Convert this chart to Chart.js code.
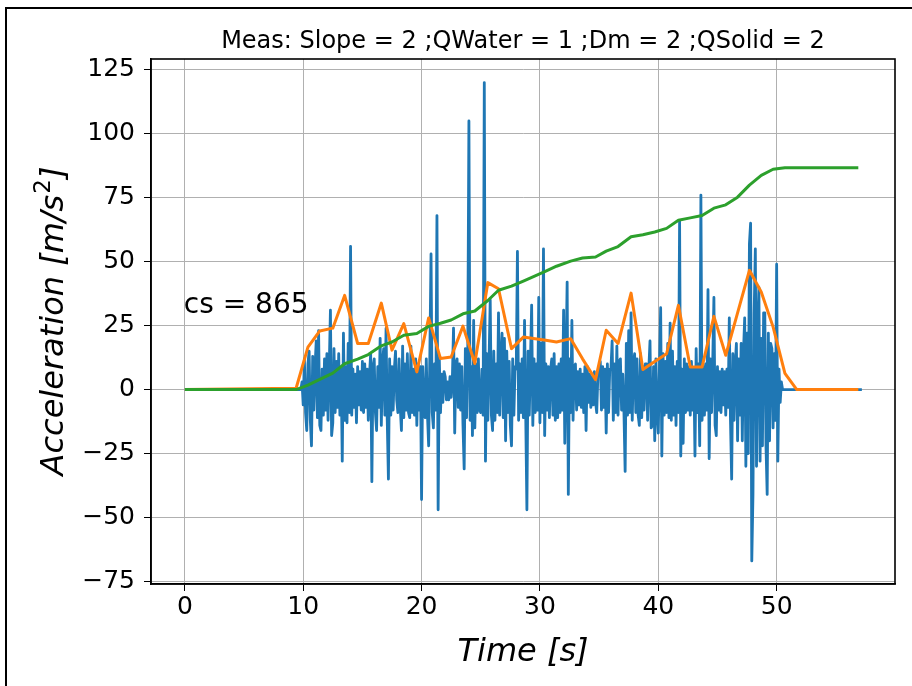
<!DOCTYPE html>
<html lang="en">
<head>
    <meta charset="UTF-8">
    <title>Meas acceleration</title>
    <script src="https://cdn.jsdelivr.net/npm/chart.js@4.4.1/dist/chart.umd.min.js"></script>
    <style>
        body{
            margin: 0;
            background: #fff;
        }
    </style>
</head>
<body>
    <canvas id="chartCanvas" width="912" height="686"></canvas>

    <script>
        // tick labels
        var xTicks = [0, 10, 20, 30, 40, 50];
        var yTicks = [-75, -50, -25, 0, 25, 50, 75, 100, 125];

        // raw acceleration, 10 samples per second starting at 9 s (one row per second)
        var sampleStart = 9;
        var sampleRate = 10;
        var sampleEnd = 57.2;
        var accelSamples = [
            0, 0, 0, 0, 0, 0, 0, 0, 0, 3,              // 9
            -6, 12, -9, -16, 10, 15, -12, -22, 13, -8, // 10
            9, 19, -11, 23, -14, -16, 8, -10, 12, -8,  // 11
            14, -12, 9, 31, -18, -13, 16, -9, 11, -7,  // 12
            14, -10, 8, -28, 22, -12, 9, -13, 18, -9,  // 13
            56, -10, 8, -7, 6, -13, 9, -6, 7, -8,      // 14
            11, -9, 10, -7, 8, -12, 6, 14, -36, 9,     // 15
            12, -9, -16, 9, -7, 20, -14, 11, 16, -10,  // 16
            24, -12, -35, 12, -10, 9, -8, 8, 15, -4,   // 17
            -9, 12, -7, -16, 17, -11, 10, -8, 14, -9,  // 18
            -11, 17, -9, 8, -10, 12, -14, 10, -8, 9,   // 19
            -43, 9, -7, -11, 12, -10, -22, 14, 53, -9, // 20
            -15, 10, -8, 68, -47, 12, -9, 6, -5, 7,    // 21
            5, -4, 3, -4, 5, -3, 4, 24, -17, 10,       // 22
            12, -7, 10, -8, 9, -14, -31, 16, -11, 13,  // 23
            105, -12, 9, -18, 27, -15, 10, -9, 12, -8, // 24
            -9, 8, -10, 120, -28, 14, -12, 11, 35, -10,// 25
            -16, 15, -12, 10, -9, 30, -10, 12, 22, -11,// 26
            20, -20, 15, -9, 11, -14, -22, 12, -10, 9, // 27
            8, 54, -12, 10, -9, 12, -11, 27, -10, -47, // 28
            15, -10, 11, 33, -14, 12, -9, 10, -8, 36,  // 29
            -13, 18, -9, 55, -18, 10, -8, 9, -11, 8,   // 30
            12, -10, 14, -12, 9, -11, 10, -9, 12, -8,  // 31
            31, -21, 10, 42, -41, 12, -9, 27, -12, 9,  // 32
            10, -8, 7, -6, 8, -7, 6, -9, 9, -16,       // 33
            9, -5, 6, -7, 5, -6, 7, -5, -9, 6,         // 34
            6, 11, -8, 9, -7, 8, -17, 10, -9, 8,       // 35
            8, 19, -12, 10, -9, 17, -10, 11, 12, -8,   // 36
            6, -9, -32, 18, -10, 23, -9, 30, -12, 10,  // 37
            14, -9, 12, -10, -14, 14, -11, 9, -8, 10,  // 38
            10, -12, 8, 19, -15, -14, 9, -20, 12, -9,  // 39
            -17, 9, 32, -26, 14, -10, 11, -9, 18, -11, // 40
            26, -12, 15, -10, 9, -14, 11, -9, 66, -26, // 41
            8, -21, 12, -9, 10, -8, 9, -10, 11, -8,    // 42
            8, -26, 16, -9, 10, -22, 76, -12, 9, -10,  // 43
            10, -8, 39, -27, 12, -9, 11, 36, -14, -18, // 44
            9, -8, 7, -9, 8, -6, 7, -10, 8, -7,        // 45
            28, -12, -35, 14, -12, 10, 18, -20, 12, -10,// 46
            18, -20, 15, 28, -30, 22, -25, 57, 65, -67,// 47
            -41, 30, 55, -30, 25, 40, -28, 20, -22, 30,// 48
            30, -22, -41, 22, -20, 18, 16, -15, 14, -12,// 49
            49, -28, 8, -5, 3, 0, 0, 0, 0, 0           // 50
        ];

        // envelope (orange) and cumulative (green), one value per window
        var envTime = [0, 9.4, 10.4, 11.4, 12.5, 13.5, 14.6, 15.5, 16.6, 17.5, 18.5, 19.6,
            20.6, 21.6, 22.5, 23.5, 24.5, 25.6, 26.5, 27.6, 28.6, 29.6,
            30.5, 31.4, 32.6, 33.6, 34.7, 35.6, 36.6, 37.7, 38.7, 39.7,
            40.7, 41.7, 42.7, 43.7, 44.7, 45.7, 46.7, 47.7, 48.7, 49.7,
            50.7, 51.7, 56.9];
        var envValues = [0, 0.5, 16.6, 22.9, 24, 36.8, 18, 18, 33.8, 15.4, 25.8, 6.9,
            28, 12.1, 12.7, 24.8, 10.2, 41.8, 39.4, 16, 20.5, 19.9,
            19.3, 18.6, 19.9, 12, 3.9, 23.2, 18, 37.7, 7.8, 11,
            14, 32.9, 8.8, 8.8, 28.6, 13.4, 30, 46.6, 38.1, 24.5,
            6.3, 0, 0];
        var cumValues = [0, 0, 1.7, 4.0, 6.4, 10.1, 11.9, 13.7, 17.1, 18.6, 21.2, 21.9,
            24.7, 25.9, 27.2, 29.6, 30.7, 34.8, 38.8, 40.4, 42.4, 44.4,
            46.3, 48.2, 50.2, 51.4, 51.8, 54.1, 55.9, 59.7, 60.5, 61.6,
            63.0, 66.2, 67.1, 68.0, 70.9, 72.2, 75.2, 79.9, 83.7, 86.1,
            86.7, 86.7, 86.7];

        var titleText = 'Meas: Slope = 2 ;QWater = 1 ;Dm = 2 ;QSolid = 2';
        var noteText = 'cs = 865';
        var noteAt = {x: 0, y: 30};

        var accelPoints = [{x: 0, y: 0}];
        accelSamples.forEach(function(v, i){
            accelPoints.push({x: sampleStart + i / sampleRate, y: v});
        });
        accelPoints.push({x: sampleEnd, y: 0});

        var envPoints = envTime.map(function(t, i){ return {x: t, y: envValues[i]}; });
        var cumPoints = envTime.map(function(t, i){ return {x: t, y: cumValues[i]}; });

        var FONT = "'DejaVu Sans', sans-serif";

        function minusFmt(v){
            return String(v).replace('-', '\u2212');
        }

        var decor = {
            id: 'decor',
            beforeDraw: function(chart){
                var c = chart.ctx;
                c.save();
                c.fillStyle = '#fff';
                c.fillRect(0, 0, chart.width, chart.height);
                c.restore();
            },
            afterDraw: function(chart){
                var c = chart.ctx;
                var a = chart.chartArea;
                var xs = chart.scales.x, ys = chart.scales.y;
                c.save();

                // spines
                c.strokeStyle = '#000';
                c.lineWidth = 1.6;
                c.strokeRect(a.left, a.top, a.right - a.left, a.bottom - a.top);

                // outer frame
                c.lineWidth = 2;
                c.strokeRect(6, 8, 930, 700);

                c.fillStyle = '#000';
                c.textAlign = 'center';
                c.textBaseline = 'alphabetic';
                c.font = '24px ' + FONT;
                c.fillText(titleText, (a.left + a.right) / 2, 48);

                c.textAlign = 'left';
                c.font = '28px ' + FONT;
                c.fillText(noteText, xs.getPixelForValue(noteAt.x) - 1, ys.getPixelForValue(noteAt.y));

                // x label
                c.textAlign = 'center';
                c.font = 'italic 32px ' + FONT;
                c.fillText('Time [s]', (a.left + a.right) / 2, 661);

                // y label with superscript
                c.translate(63, (a.top + a.bottom) / 2);
                c.rotate(-Math.PI / 2);
                c.textAlign = 'left';
                var p1 = 'Acceleration [m/s', p2 = '2', p3 = ']';
                c.font = 'italic 32px ' + FONT;
                var w1 = c.measureText(p1).width, w3 = c.measureText(p3).width;
                c.font = '23px ' + FONT;
                var w2 = c.measureText(p2).width;
                var x0 = -(w1 + w2 + w3) / 2;
                c.font = 'italic 32px ' + FONT;
                c.fillText(p1, x0, 0);
                c.fillText(p3, x0 + w1 + w2 + 1, 0);
                c.font = '23px ' + FONT;
                c.fillText(p2, x0 + w1 + 1, -13);
                c.restore();
            }
        };

        function fixedTicks(list){
            return function(scale){
                scale.ticks = list.map(function(v){ return {value: v}; });
            };
        }

        var ctx = document.getElementById('chartCanvas').getContext('2d');
        var chart = new Chart(ctx, {
            type: 'line',
            data: {
                datasets: [
                    {
                        label: 'acc',
                        data: accelPoints,
                        borderColor: '#1f77b4',
                        borderWidth: 2.8,
                        borderJoinStyle: 'round',
                        pointRadius: 0,
                        fill: false,
                        tension: 0,
                        order: 3
                    },
                    {
                        label: 'envelope',
                        data: envPoints,
                        borderColor: '#ff7f0e',
                        borderWidth: 3,
                        borderJoinStyle: 'round',
                        pointRadius: 0,
                        fill: false,
                        tension: 0,
                        order: 2
                    },
                    {
                        label: 'cumulative',
                        data: cumPoints,
                        borderColor: '#2ca02c',
                        borderWidth: 3,
                        borderJoinStyle: 'round',
                        pointRadius: 0,
                        fill: false,
                        tension: 0,
                        order: 1
                    }
                ]
            },
            options: {
                responsive: false,
                animation: false,
                devicePixelRatio: 1,
                layout: {padding: {left: 0, top: 59, right: 17, bottom: 0}},
                plugins: {
                    legend: {display: false},
                    tooltip: {enabled: false},
                    title: {display: false}
                },
                scales: {
                    x: {
                        type: 'linear',
                        min: -2.86,
                        max: 60.0,
                        afterFit: function(s){ s.height = 102; },
                        afterBuildTicks: fixedTicks(xTicks),
                        ticks: {
                            color: '#000',
                            font: {family: FONT, size: 25},
                            padding: 1,
                            maxRotation: 0,
                            callback: minusFmt
                        },
                        grid: {color: '#b0b0b0', lineWidth: 1, tickColor: '#000', tickLength: 7},
                        border: {color: '#000', width: 1.6}
                    },
                    y: {
                        type: 'linear',
                        min: -76,
                        max: 129.2,
                        afterFit: function(s){ s.width = 151; },
                        afterBuildTicks: fixedTicks(yTicks),
                        ticks: {
                            color: '#000',
                            font: {family: FONT, size: 25},
                            padding: 9,
                            callback: minusFmt
                        },
                        grid: {color: '#b0b0b0', lineWidth: 1, tickColor: '#000', tickLength: 7},
                        border: {color: '#000', width: 1.6}
                    }
                }
            },
            plugins: [decor]
        });
    </script>
</body>
</html>
